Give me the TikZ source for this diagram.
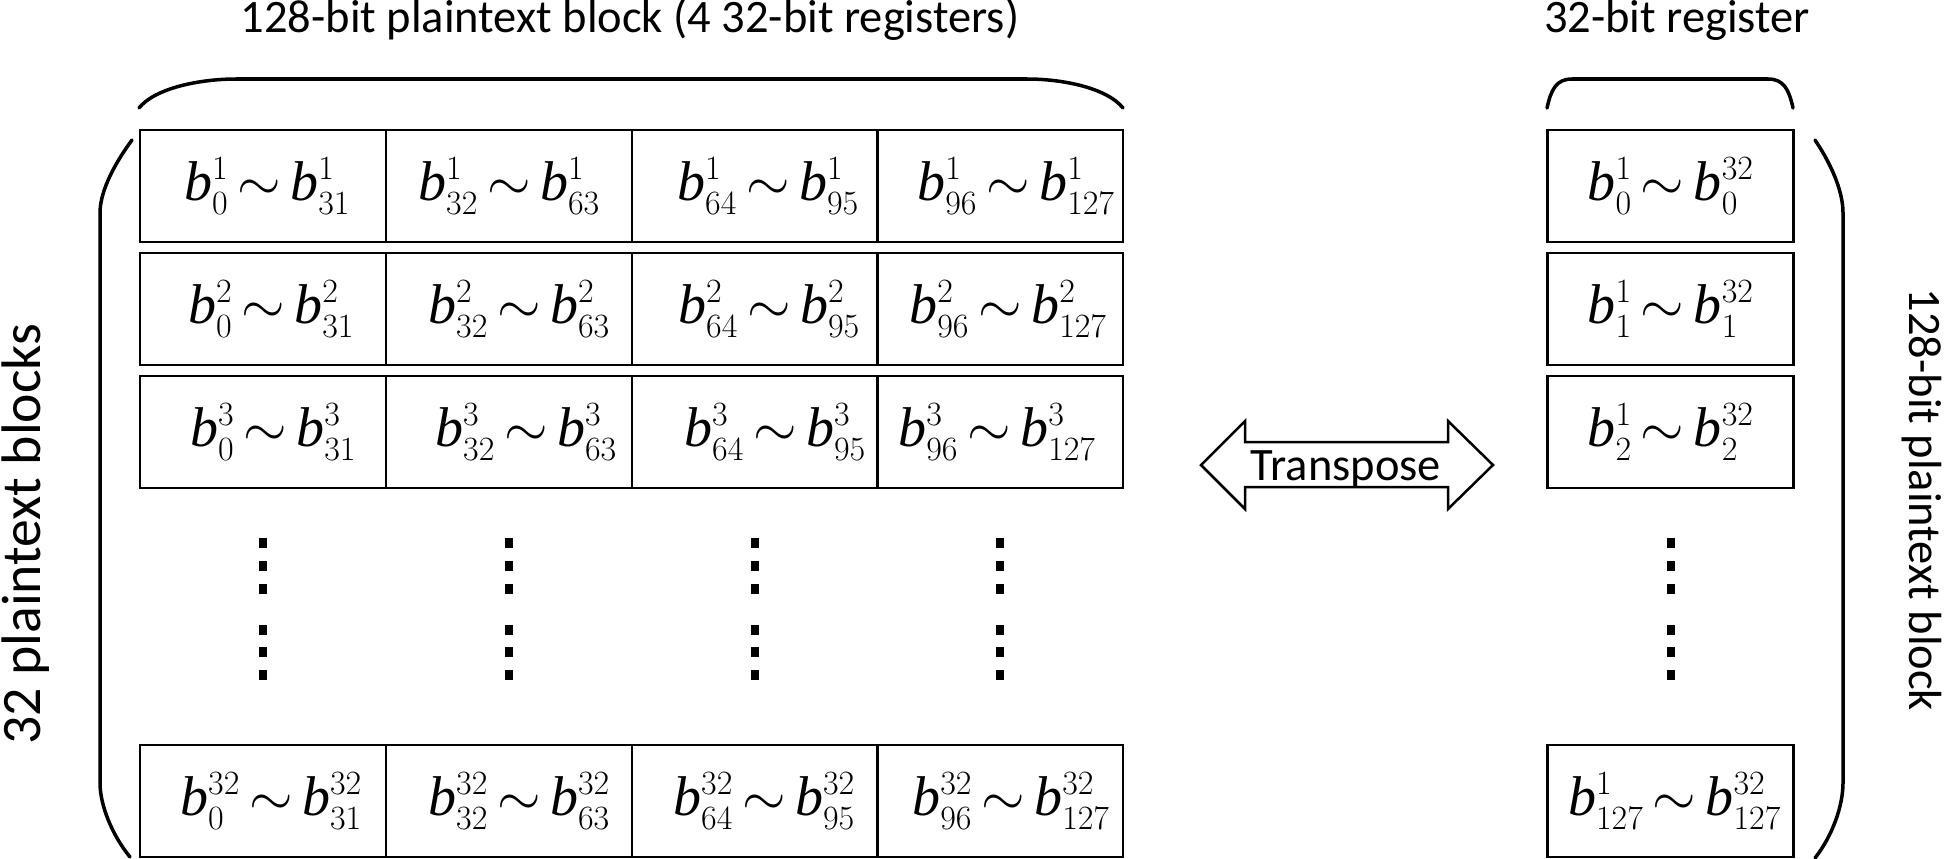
\RequirePackage{fix-cm}
\documentclass[tikz,border=0pt]{standalone}
\usepackage{amsmath}
\usepackage{fontspec}
\setmainfont{Liberation Serif}
\newfontfamily\carl{Carlito}
\DeclareMathSizes{56}{56}{34}{24}
\thickmuskip=3mu plus 2mu
\newcommand{\bexp}[5][0]{\makebox[0pt]{\hspace*{#1pt}\hspace*{#1pt}$\mathit{b}^{#2}_{#3}\sim\mathit{b}^{#4}_{#5}$}}
\begin{document}
\begin{tikzpicture}[x=1pt,y=-1pt,
  cell/.style={draw, line width=2.2pt, minimum width=246pt, minimum height=112pt, inner sep=0pt, anchor=center, font=\fontsize{56}{62}\selectfont},
  lbl/.style={font=\carl\fontsize{46.5}{56}\selectfont, inner sep=0pt},
  biglbl/.style={font=\carl\fontsize{55.7}{66}\selectfont, inner sep=0pt},
  brace/.style={line width=3.5pt, line cap=round},
  dotmark/.style={fill=black}
  ]
\useasboundingbox (0,0) rectangle (1946,859);

% titles
\node[lbl, anchor=base] (t1) at (630,33) {128-bit plaintext block (4 32-bit registers)};
\node[lbl, anchor=base] (t2) at (1677,33) {32-bit register};
\node[biglbl, rotate=90] (v1) at (26,534) {32 plaintext blocks};
\node[lbl, rotate=-90] (v2) at (1922,500) {128-bit plaintext block};

% grid rows
\node[cell] (c11) at (263,186) {\bexp[4]{1}{0}{1}{31}};
\node[cell] (c12) at (509,186) {\bexp[0]{1}{32}{1}{63}};
\node[cell] (c13) at (755,186) {\bexp[13]{1}{64}{1}{95}};
\node[cell] (c14) at (1000,186) {\bexp[16]{1}{96}{1}{127}};

\node[cell] (c21) at (263,309) {\bexp[8]{2}{0}{2}{31}};
\node[cell] (c22) at (509,309) {\bexp[10]{2}{32}{2}{63}};
\node[cell] (c23) at (755,309) {\bexp[14]{2}{64}{2}{95}};
\node[cell] (c24) at (1000,309) {\bexp[8]{2}{96}{2}{127}};

\node[cell] (c31) at (263,432) {\bexp[10]{3}{0}{3}{31}};
\node[cell] (c32) at (509,432) {\bexp[17]{3}{32}{3}{63}};
\node[cell] (c33) at (755,432) {\bexp[20]{3}{64}{3}{95}};
\node[cell] (c34) at (1000,432) {\bexp[-3]{3}{96}{3}{127}};

\node[cell] (c41) at (263,801) {\bexp[8]{32}{0}{32}{31}};
\node[cell] (c42) at (509,801) {\bexp[10]{32}{32}{32}{63}};
\node[cell] (c43) at (755,801) {\bexp[9]{32}{64}{32}{95}};
\node[cell] (c44) at (1000,801) {\bexp[11]{32}{96}{32}{127}};

% register column
\node[cell] (r1) at (1670.5,186) {\bexp{1}{0}{32}{0}};
\node[cell] (r2) at (1670.5,309) {\bexp{1}{1}{32}{1}};
\node[cell] (r3) at (1670.5,432) {\bexp{1}{2}{32}{2}};
\node[cell] (r4) at (1670.5,801) {\bexp[4]{1}{127}{32}{127}};

% vertical dots
\foreach \x in {263,509,755,1000,1671}
  \foreach \y in {543,566,589,630,652,675}
    \fill[dotmark] (\x-4,\y-5) rectangle (\x+4,\y+5);

% braces
\draw[brace] (139,108) .. controls (155,88) and (200,79) .. (236,79) -- (1027,79) .. controls (1063,79) and (1107,88) .. (1123,108);
\draw[brace] (1547,108) .. controls (1551,90) and (1556,79) .. (1572,79) -- (1768,79) .. controls (1784,79) and (1789,90) .. (1793,108);
\draw[brace] (132,140) .. controls (110,170) and (100,195) .. (100,213) -- (100,783) .. controls (100,805) and (112,835) .. (130,857);
\draw[brace] (1815,140) .. controls (1835,170) and (1843,195) .. (1843,213) -- (1843,783) .. controls (1843,805) and (1833,835) .. (1815,858);

% transpose arrow
\node[lbl, anchor=base] (tr) at (1346,480) {Transpose};
\draw[line width=2.5pt, line join=miter] (1201,465) -- (1245,421) -- (1245,442) -- (1448,442) -- (1448,421) -- (1493,465) -- (1448,509) -- (1448,487) -- (1245,487) -- (1245,509) -- cycle;
\end{tikzpicture}
\end{document}
